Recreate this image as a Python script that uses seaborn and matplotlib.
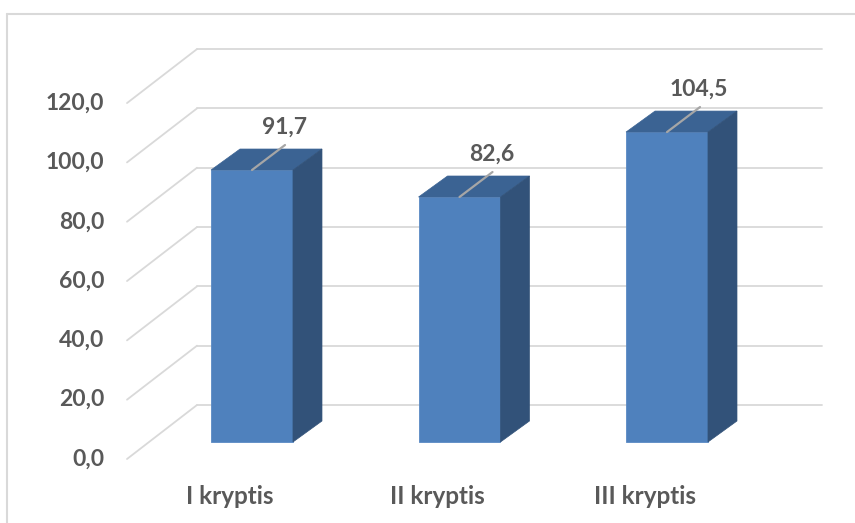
import matplotlib
matplotlib.use("Agg")
import matplotlib.pyplot as plt
import seaborn as sns
import pandas as pd
from matplotlib.patches import Polygon
from matplotlib.lines import Line2D

# data
categories = ["I kryptis", "II kryptis", "III kryptis"]
values = [91.7, 82.6, 104.5]
y_ticks = [0, 20, 40, 60, 80, 100, 120]

FRONT = "#4F81BD"
TOP = "#3B6393"
SIDE = "#325279"
GRID = "#D9D9D9"
TEXT = "#595959"

# pixel geometry of the original 3D column chart
W, H = 855, 523
PX_X = 207.5          # px per category
PX_Y = 2.966          # px per value unit
X0_PX = 252           # first bar centre
Y0_PX = 442           # value 0 on the bar front plane

def px_to_dx(p):
    return p / PX_X

def px_to_dy(p):
    return p / PX_Y

sns.set_style("white")
plt.rcParams["font.family"] = ["Lato", "DejaVu Sans"]

fig = plt.figure(figsize=(W / 100, H / 100), dpi=100)
ax = fig.add_axes([0, 0, 1, 1])

df = pd.DataFrame({"cat": categories, "val": values})
sns.barplot(data=df, x="cat", y="val", color=FRONT, saturation=1, width=0.395,
            edgecolor="#5A8AC4", linewidth=0.6, ax=ax, zorder=3)

ax.set_xlim(-X0_PX / PX_X, (W - X0_PX) / PX_X)
ax.set_ylim(-(H - Y0_PX) / PX_Y, Y0_PX / PX_Y)
ax.axis("off")

# back wall gridlines + floor perspective lines
wall_dy = px_to_dy(Y0_PX - 405)
front_dy = px_to_dy(459 - Y0_PX)
xa = px_to_dx(127 - X0_PX)
xb = px_to_dx(197 - X0_PX)
xc = px_to_dx(822 - X0_PX)
for v in y_ticks:
    ax.add_line(Line2D([xb, xc], [v + wall_dy, v + wall_dy], color=GRID, lw=1.3, zorder=1))
    ax.add_line(Line2D([xa, xb], [v - front_dy, v + wall_dy], color=GRID, lw=1.3, zorder=1))
    ax.text(px_to_dx(104 - X0_PX), v - front_dy, f"{v:.1f}".replace(".", ","),
            ha="right", va="center", fontsize=16.5, fontweight="bold", color=TEXT)

# 3D top and side faces of the bars
bdx = px_to_dx(29)
bdy = px_to_dy(21)
for bar, v in zip(ax.patches, values):
    x0 = bar.get_x()
    x1 = x0 + bar.get_width()
    h = bar.get_height()
    top = Polygon([(x0, h), (x1, h), (x1 + bdx, h + bdy), (x0 + bdx, h + bdy)],
                  closed=True, facecolor=TOP, edgecolor=TOP, lw=0.5, zorder=3)
    side = Polygon([(x1, 0), (x1 + bdx, bdy), (x1 + bdx, h + bdy), (x1, h)],
                   closed=True, facecolor=SIDE, edgecolor=SIDE, lw=0.5, zorder=3)
    ax.add_patch(top)
    ax.add_patch(side)
    xc_bar = x0 + bar.get_width() / 2
    ax.add_line(Line2D([xc_bar, xc_bar + px_to_dx(33)], [h, h + px_to_dy(25)],
                       color="#A6A6A6", lw=1.6, zorder=4))
    ax.text(xc_bar + px_to_dx(32), h + px_to_dy(43), f"{v:.1f}".replace(".", ","),
            ha="center", va="center", fontsize=16.5, fontweight="bold", color=TEXT, zorder=5)

# category labels at the front edge of the floor
for i, c in enumerate(categories):
    ax.text(i - px_to_dx(22), px_to_dy(Y0_PX - 496), c, ha="center", va="center",
            fontsize=17.5, fontweight="bold", color=TEXT)

# chart area border (only top and left visible in the crop)
fig.add_artist(Line2D([7 / W, 1], [1 - 14 / H, 1 - 14 / H], transform=fig.transFigure,
                      color=GRID, lw=1.5))
fig.add_artist(Line2D([7 / W, 7 / W], [0, 1 - 14 / H], transform=fig.transFigure,
                      color=GRID, lw=1.5))

fig.savefig("out.png", dpi=100)
